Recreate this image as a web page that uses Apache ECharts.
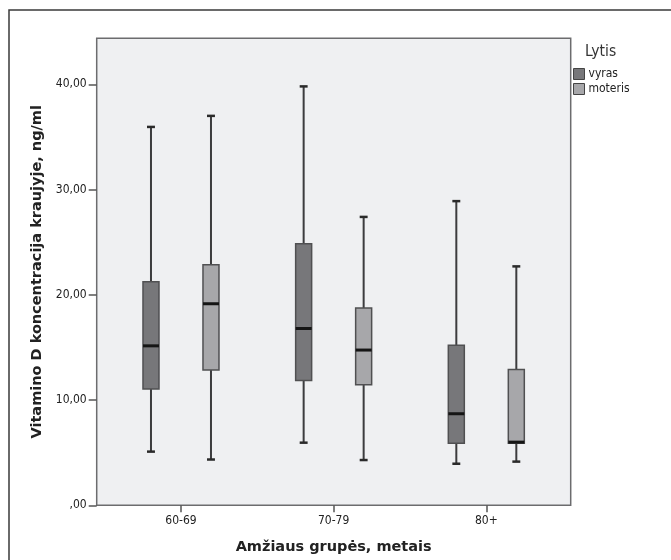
<!DOCTYPE html>
<html><head><meta charset="utf-8">
<script src="https://cdn.jsdelivr.net/npm/echarts@6/dist/echarts.min.js"></script>
<style>html,body{margin:0;padding:0;background:#fff}#c{width:671px;height:560px}</style>
</head><body><div id="c"></div>
<script>
const categories = ['60-69', '70-79', '80+'];
// [min, Q1, median, Q3, max]
const vyras = [
  [5.1, 11.05, 15.15, 21.25, 35.95],
  [5.95, 11.85, 16.8, 24.85, 39.8],
  [3.95, 5.9, 8.7, 15.2, 28.9]
];
const moteris = [
  [4.35, 12.85, 19.15, 22.85, 37.0],
  [4.3, 11.45, 14.75, 18.75, 27.4],
  [4.15, 5.9, 6.0, 12.9, 22.7]
];
const yTickLabels = [',00', '10,00', '20,00', '30,00', '40,00'];
const seriesNames = ['vyras', 'moteris'];
const legendTitle = 'Lytis';
const xTitle = 'Amžiaus grupės, metais';
const yTitle = 'Vitamino D koncentracija kraujyje, ng/ml';

const FONT = 'DejaVu Sans Condensed, DejaVu Sans, sans-serif';
const TFONT = 'DejaVu Sans, sans-serif';
const fills = ['#77777a', '#a7a7aa'];

function toRows(arr) { return arr.map((r, i) => [i].concat(r)); }

function makeRender(offsetFrac, fill) {
  return function (params, api) {
    const cat = api.value(0);
    const band = api.size([1, 0])[0];
    const cx = api.coord([cat, 0])[0] + offsetFrac * band;
    const half = 0.1048 * band / 2;
    const capHalf = 0.052 * band / 2;
    const y = i => api.coord([cat, api.value(i)])[1];
    const yMin = y(1), yQ1 = y(2), yMed = y(3), yQ3 = y(4), yMax = y(5);
    const wl = { stroke: '#3c3c3e', lineWidth: 2 };
    return {
      type: 'group',
      children: [
        { type: 'line', shape: { x1: cx, y1: yMax, x2: cx, y2: yMin }, style: wl },
        { type: 'line', shape: { x1: cx - capHalf, y1: yMax, x2: cx + capHalf, y2: yMax }, style: { stroke: '#2a2a2a', lineWidth: 2.5 } },
        { type: 'line', shape: { x1: cx - capHalf, y1: yMin, x2: cx + capHalf, y2: yMin }, style: { stroke: '#2a2a2a', lineWidth: 2.5 } },
        { type: 'rect', shape: { x: cx - half, y: yQ3, width: 2 * half, height: yQ1 - yQ3 }, style: { fill: fill, stroke: '#505052', lineWidth: 1.5 } },
        { type: 'line', shape: { x1: cx - half, y1: yMed, x2: cx + half, y2: yMed }, style: { stroke: '#151515', lineWidth: 3 } }
      ]
    };
  };
}

const chart = echarts.init(document.getElementById('c'), null, { renderer: 'canvas' });
chart.setOption({
  animation: false,
  backgroundColor: '#ffffff',
  title: {
    text: legendTitle, left: 585, top: 44, padding: 0,
    textStyle: { fontFamily: FONT, fontSize: 15.5, fontWeight: 'normal', color: '#333' }
  },
  legend: {
    data: seriesNames, orient: 'vertical', left: 573, top: 68, padding: 0,
    itemWidth: 11, itemHeight: 11, itemGap: 3, icon: 'rect',
    itemStyle: { borderColor: '#444', borderWidth: 1 },
    textStyle: { fontFamily: FONT, fontSize: 12, color: '#222', padding: [0, 0, 0, -1] }
  },
  graphic: [{
    type: 'rect', shape: { x: 9, y: 10, width: 690, height: 580 },
    style: { fill: 'none', stroke: '#3a3a3a', lineWidth: 1.5 }, silent: true, z: 100
  }],
  grid: [
    { left: 96.7, top: 38.3, width: 474, height: 467, show: true, backgroundColor: '#eff0f2',
      borderColor: '#6c6c6e', borderWidth: 1.5, outerBoundsMode: 'none' },
    { left: 104.65, top: 38.3, width: 458, height: 467, outerBoundsMode: 'none' }
  ],
  xAxis: [
    { type: 'value', gridIndex: 0, show: false, min: 0, max: 1 },
    { type: 'category', gridIndex: 1, data: categories, boundaryGap: true,
      axisLine: { show: false },
      axisTick: { show: true, alignWithLabel: true, length: 7, lineStyle: { color: '#555', width: 1.5 } },
      axisLabel: { margin: 10, fontFamily: FONT, fontSize: 12, color: '#222' },
      splitLine: { show: false },
      name: xTitle, nameLocation: 'middle', nameGap: 34,
      nameTextStyle: { fontFamily: TFONT, fontSize: 14.5, fontWeight: 'bold', color: '#222' }
    }
  ],
  yAxis: [
    { type: 'value', gridIndex: 0, min: 0, max: 44.37, interval: 10,
      axisLine: { show: false },
      axisTick: { show: true, length: 8, lineStyle: { color: '#555', width: 1.5 } },
      axisLabel: { margin: 10, fontFamily: FONT, fontSize: 12, color: '#222', showMaxLabel: false,
        formatter: v => yTickLabels[Math.round(v / 10)] },
      splitLine: { show: false },
      name: yTitle, nameLocation: 'middle', nameGap: 51, nameRotate: 90,
      nameTextStyle: { fontFamily: TFONT, fontSize: 14.5, fontWeight: 'bold', color: '#222' }
    },
    { type: 'value', gridIndex: 1, min: 0, max: 44.37, show: false }
  ],
  series: [
    { name: seriesNames[0], type: 'custom', xAxisIndex: 1, yAxisIndex: 1,
      renderItem: makeRender(-0.1965, fills[0]),
      itemStyle: { color: fills[0] },
      encode: { x: 0, y: [1, 2, 3, 4, 5] }, data: toRows(vyras) },
    { name: seriesNames[1], type: 'custom', xAxisIndex: 1, yAxisIndex: 1,
      renderItem: makeRender(0.1965, fills[1]),
      itemStyle: { color: fills[1] },
      encode: { x: 0, y: [1, 2, 3, 4, 5] }, data: toRows(moteris) }
  ]
});
</script></body></html>
